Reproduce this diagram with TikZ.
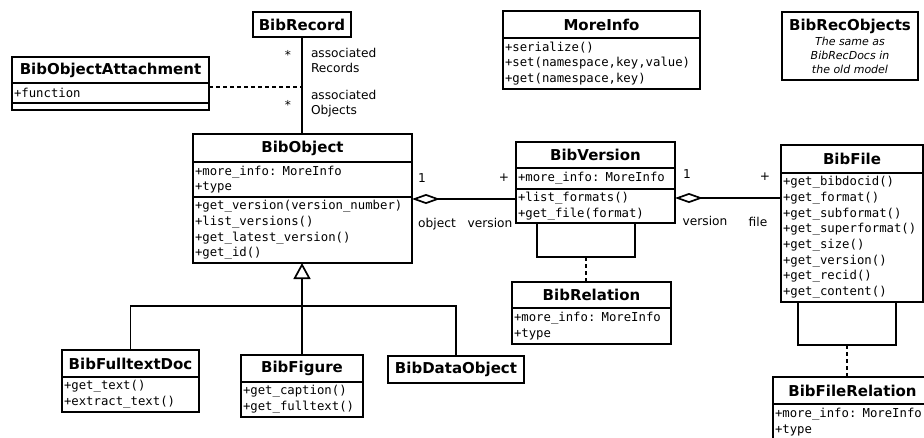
\documentclass[tikz,border=0pt]{standalone}
\usepackage{fontspec}
\setmainfont{DejaVu Sans}
\setsansfont{DejaVu Sans}
\setmonofont{DejaVu Sans Mono}
\usetikzlibrary{arrows.meta}
\begin{document}
\begin{tikzpicture}[
  x=1pt, y=-1pt, line width=1.7pt,
  every node/.style={outer sep=0pt},
  head/.style={draw,line width=1.9pt,anchor=north west,inner sep=0pt,font=\fontsize{15}{18}\selectfont\bfseries},
  part/.style={draw,line width=1.9pt,anchor=north west,inner xsep=2pt,inner ysep=0pt,align=left,font=\fontsize{12.3}{15.7}\selectfont\ttfamily},
  lbl/.style={inner sep=0pt,align=left,font=\fontsize{12.2}{15}\selectfont},
  dots/.style={dash pattern=on 4pt off 3pt},
  diam/.style={{Diamond[open,length=28pt,width=10pt]}-},
  gen/.style={-{Triangle[open,length=16pt,width=17pt]}}
]
  \useasboundingbox (0,0) rectangle (924,437);

  % classes
  \node[head,minimum width=98pt,minimum height=25pt] (rec) at (253,12) {BibRecord};

  \node[head,minimum width=197pt,minimum height=26pt] (att) at (12,57) {BibObjectAttachment};
  \node[part,text width=193pt,minimum height=20pt] (att-attr) at (att.south west) {+function};
  \node[part,text width=193pt,minimum height=7pt] (att-ops) at (att-attr.south west) {};

  \node[head,minimum width=219pt,minimum height=28pt] (obj) at (193,134) {BibObject};
  \node[part,text width=215pt,minimum height=35pt] (obj-attr) at (obj.south west) {+more\_info: MoreInfo\\+type};
  \node[part,text width=215pt,minimum height=66pt] (obj-ops) at (obj-attr.south west)
    {+get\_version(version\_number)\\+list\_versions()\\+get\_latest\_version()\\+get\_id()};

  \node[head,minimum width=197pt,minimum height=27pt] (more) at (503,11) {MoreInfo};
  \node[part,text width=193pt,minimum height=51pt] (more-ops) at (more.south west)
    {+serialize()\\+set(namespace,key,value)\\+get(namespace,key)};

  \node[draw,line width=1.9pt,anchor=north west,inner sep=0pt,minimum width=136pt,minimum height=68pt,align=center,
    font=\fontsize{11}{13.6}\selectfont\itshape] (recobj) at (782,12)
    {{\fontsize{15}{18}\selectfont\bfseries\upshape BibRecObjects}\\[2pt]The same as\\BibRecDocs in\\the old model};

  \node[head,minimum width=159pt,minimum height=26pt] (ver) at (516,142) {BibVersion};
  \node[part,text width=155pt,minimum height=21pt] (ver-attr) at (ver.south west) {+more\_info: MoreInfo};
  \node[part,text width=155pt,minimum height=34pt] (ver-ops) at (ver-attr.south west) {+list\_formats()\\+get\_file(format)};

  \node[head,minimum width=142pt,minimum height=28pt] (file) at (781,145) {BibFile};
  \node[part,text width=138pt,minimum height=129pt] (file-ops) at (file.south west)
    {+get\_bibdocid()\\+get\_format()\\+get\_subformat()\\+get\_superformat()\\+get\_size()\\+get\_version()\\+get\_recid()\\+get\_content()};

  \node[head,minimum width=159pt,minimum height=26pt] (rel) at (512,282) {BibRelation};
  \node[part,text width=155pt,minimum height=36pt] (rel-attr) at (rel.south west) {+more\_info: MoreInfo\\+type};

  \node[head,minimum width=159pt,minimum height=27pt] (frel) at (773,377) {BibFileRelation};
  \node[part,text width=155pt,minimum height=36pt] (frel-attr) at (frel.south west) {+more\_info: MoreInfo\\+type};

  \node[head,minimum width=137pt,minimum height=27pt] (ftd) at (62,350) {BibFulltextDoc};
  \node[part,text width=133pt,minimum height=35pt] (ftd-ops) at (ftd.south west) {+get\_text()\\+extract\_text()};
  \node[head,minimum width=122pt,minimum height=27pt] (fig) at (241,355) {BibFigure};
  \node[part,text width=118pt,minimum height=35pt] (fig-ops) at (fig.south west) {+get\_caption()\\+get\_fulltext()};
  \node[head,minimum width=136pt,minimum height=27pt] (dat) at (388,356) {BibDataObject};

  % record -- object association
  \draw (rec.south) -- (rec.south |- obj.north);
  \coordinate (assoc) at (302,87);
  \draw[dots] (assoc -| att.east) -- (assoc);
  \node[lbl,anchor=base] (m1) at (288,59) {*};
  \node[lbl,anchor=base] (m2) at (288,109) {*};
  \node[lbl,anchor=north west] (r1) at (311,48) {associated\\Records};
  \node[lbl,anchor=north west] (r2) at (311,90) {associated\\Objects};

  % aggregations
  \coordinate (agg1) at ([yshift=-2pt]obj-ops.north east);
  \draw[diam] (agg1) -- (agg1 -| ver.west);
  \node[lbl,anchor=base] (n1) at (422,182) {1};
  \node[lbl,anchor=base] (n2) at (504,181) {+};
  \node[lbl,anchor=base] (r3) at (437,227) {object};
  \node[lbl,anchor=base] (r4) at (490,227) {version};

  \coordinate (agg2) at ([yshift=-9pt]ver-ops.north east);
  \draw[diam] (agg2) -- (agg2 -| file.west);
  \node[lbl,anchor=base] (n3) at (687,178) {1};
  \node[lbl,anchor=base] (n4) at (765,180) {+};
  \node[lbl,anchor=base] (r5) at (705,225) {version};
  \node[lbl,anchor=base] (r6) at (758,226) {file};

  % relation loops
  \coordinate (vloop) at (586,257);
  \draw ([xshift=21pt]ver-ops.south west) |- (vloop) -| ([xshift=-40pt]ver-ops.south east);
  \draw[dots] (vloop) -- (vloop |- rel.north);
  \coordinate (floop) at (847,345);
  \draw ([xshift=17pt]file-ops.south west) |- (floop) -| ([xshift=-27pt]file-ops.south east);
  \draw[dots] (floop) -- (floop |- frel.north);

  % generalization
  \coordinate (genpt) at (302,306);
  \draw[gen] (genpt) -- (obj-ops.south -| genpt);
  \draw (ftd.north) |- (genpt) -| (dat.north);
  \draw (fig.north) -- (genpt);
\end{tikzpicture}
\end{document}
